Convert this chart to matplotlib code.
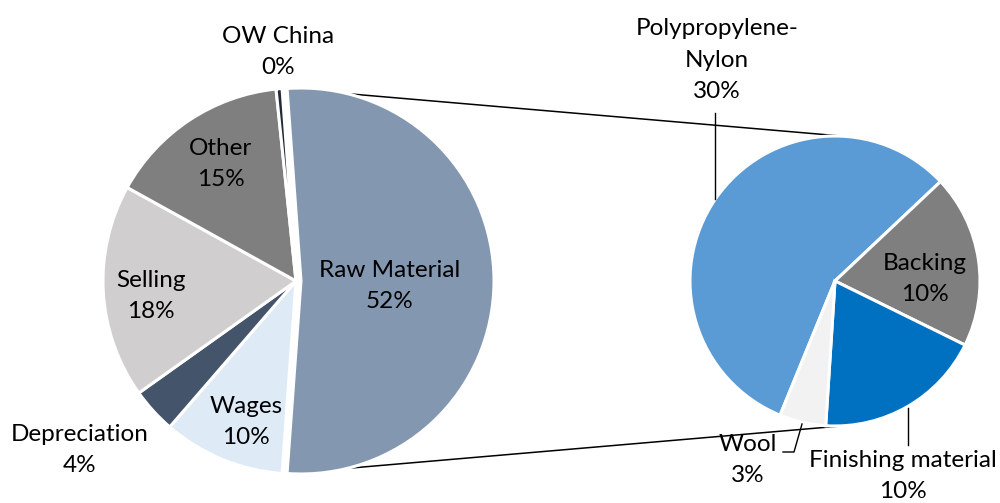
import matplotlib
matplotlib.use("Agg")
import matplotlib.pyplot as plt
import numpy as np

# ---- data ----
left_labels = ["Raw Material", "Wages", "Depreciation", "Selling", "Other", "OW China"]
left_values = [52.3, 10.2, 3.8, 17.9, 15.3, 0.5]
right_labels = ["Polypropylene-\nNylon", "Backing", "Finishing material", "Wool"]
right_values = [29.7, 10.1, 9.8, 2.7]

left_colors = ["#8497B0", "#DEEBF7", "#44546A", "#D0CECE", "#7F7F7F", "#222A35"]
right_colors = ["#5B9BD5", "#7F7F7F", "#0070C0", "#F2F2F2"]

W, H = 1000, 503
plt.rcParams['font.family'] = ['Lato', 'DejaVu Sans']
fig = plt.figure(figsize=(10, 5.03), dpi=100)
ax = fig.add_axes([0, 0, 1, 1])


def P(x, y):
    return (x, H - y)


lc = P(296, 281)
lr = 193
rc = P(835, 281)
rr = 145

total = sum(left_values)
raw_frac = left_values[0] / total
start = raw_frac * 180.0
explode = [5] + [0] * (len(left_values) - 1)

ax.pie(left_values, colors=left_colors, startangle=start, counterclock=False,
       center=lc, radius=lr, explode=explode,
       wedgeprops=dict(edgecolor='white', linewidth=2.2, zorder=3))

rtot = sum(right_values)
pp_frac = right_values[0] / rtot
rstart = 43.3 + pp_frac * 360
ax.pie(right_values, colors=right_colors, startangle=rstart, counterclock=False,
       center=rc, radius=rr,
       wedgeprops=dict(edgecolor='white', linewidth=2.2, zorder=3))

# connector lines
ex = lc[0] + explode[0]
a = np.radians(start)
lt = (ex + lr * np.cos(a), lc[1] + lr * np.sin(a))
lb = (ex + lr * np.cos(-a), lc[1] + lr * np.sin(-a))
b = np.radians(86)
rt = (rc[0] + rr * np.cos(b), rc[1] + rr * np.sin(b))
rb = (rc[0] + rr * np.cos(-b), rc[1] + rr * np.sin(-b))
ax.plot([lt[0], rt[0]], [lt[1], rt[1]], color='black', lw=1.1, zorder=1)
ax.plot([lb[0], rb[0]], [lb[1], rb[1]], color='black', lw=1.1, zorder=1)

fs = 17.5
LS = 1.63


def pct(v, tot):
    return f"{round(100 * v / tot):.0f}%"


left_pos = [(390, 286), (246, 422), (80, 450), (151, 296), (221, 164), (278, 52)]
for lab, v, (x, y) in zip(left_labels, left_values, left_pos):
    ax.text(*P(x, y), f"{lab}\n{pct(v, total)}", ha='center', va='center',
            fontsize=fs, color='black', linespacing=LS, zorder=5)

right_pos = [(717, 60), (925, 279), (903, 476), (748, 460)]
for lab, v, (x, y) in zip(right_labels, right_values, right_pos):
    ax.text(*P(x, y), f"{lab}\n{pct(v, total)}", ha='center', va='center',
            fontsize=fs, color='black', linespacing=LS, zorder=5)

# leader lines
ax.plot(*zip(P(715, 113), P(715, 199)), color='black', lw=1.0, zorder=4)
ax.plot(*zip(P(908, 408), P(908, 445)), color='black', lw=1.0, zorder=4)
ax.plot(*zip(P(783, 452), P(794, 452), P(802, 424)), color='black', lw=1.0, zorder=4)

ax.set_xlim(0, W)
ax.set_ylim(0, H)
ax.set_aspect('equal')
ax.axis('off')

fig.savefig("out.png", dpi=100, facecolor='white')
